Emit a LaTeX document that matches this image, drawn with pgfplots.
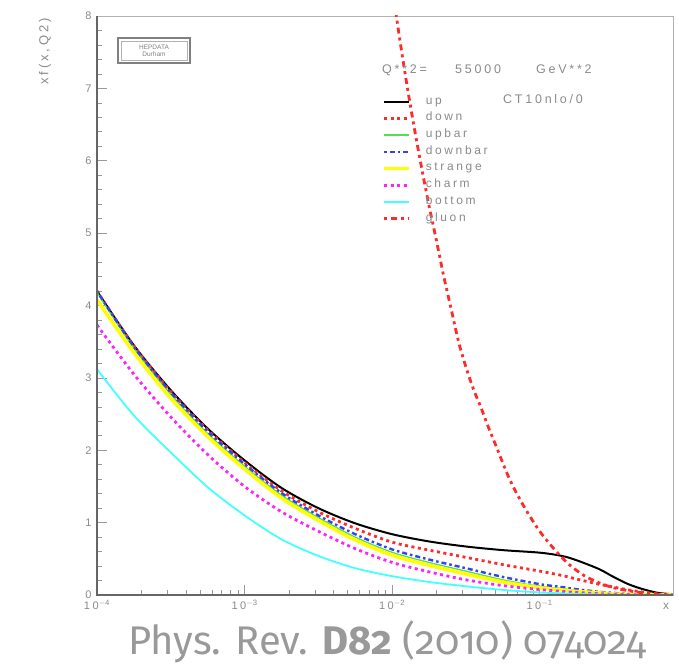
\documentclass[border=0pt]{standalone}
\usepackage{pgfplots}
\pgfplotsset{compat=1.18}
\usepackage{pgfplotstable}
\usepackage{fontspec}
\setmainfont{Liberation Sans}
\newfontfamily\rootfont{Liberation Sans}[LetterSpace=22]
\newfontfamily\footfont{Fira Sans}[Numbers=OldStyle]
\definecolor{txtgray}{HTML}{8A8A8A}
\definecolor{rred}{HTML}{FF2A2A}
\definecolor{rgreen}{HTML}{55DD55}
\definecolor{rblue}{HTML}{3344EE}
\definecolor{ryellow}{HTML}{FFFF00}
\definecolor{rmag}{HTML}{FF22FF}
\definecolor{rcyan}{HTML}{44FFFF}

\pgfplotstableread{
x        up    down  upbar downbar strange charm bottom
1e-4     4.20  4.20  4.18  4.20   4.08   3.73  3.12
1.778e-4 3.45  3.44  3.41  3.43   3.35   3.05  2.48
3.162e-4 2.83  2.81  2.77  2.80   2.72   2.46  1.97
5.623e-4 2.30  2.28  2.23  2.26   2.19   1.94  1.49
1e-3     1.86  1.83  1.78  1.81   1.74   1.50  1.10
1.778e-3 1.48  1.44  1.38  1.41   1.34   1.15  0.77
3.162e-3 1.20  1.15  1.07  1.10   1.03   0.88  0.54
5.623e-3 0.99  0.92  0.80  0.84   0.76   0.64  0.37
1e-2     0.84  0.73  0.59  0.63   0.55   0.45  0.26
1.778e-2 0.74  0.62  0.45  0.49   0.41   0.32  0.18
3.162e-2 0.67  0.52  0.33  0.37   0.29   0.21  0.12
5.623e-2 0.62  0.42  0.21  0.25   0.18   0.13  0.07
0.1      0.585 0.33  0.12  0.15   0.10   0.075 0.035
0.1413   0.54  0.27  0.09  0.11   0.07   0.05  0.022
0.1778   0.48  0.22  0.06  0.08   0.05   0.035 0.015
0.2512   0.36  0.15  0.035 0.045  0.03   0.018 0.008
0.3162   0.25  0.11  0.02  0.03   0.015  0.01  0.005
0.3981   0.15  0.07  0.01  0.015  0.008  0.005 0.002
0.5012   0.08  0.04  0.005 0.008  0.004  0.002 0.001
0.6310   0.03  0.015 0.002 0.003  0.001  0.001 0
0.7943   0.01  0.005 0     0      0      0     0
}\quarks

\pgfplotstableread{
x        g
0.01     8.4
0.01122  7.7
0.01259  7.05
0.01413  6.45
0.01585  5.9
0.01778  5.38
0.01995  4.9
0.02239  4.4
0.02512  3.95
0.02818  3.5
0.03162  3.15
0.03548  2.85
0.03981  2.6
0.04467  2.33
0.05012  2.08
0.0631   1.58
0.07943  1.2
0.1      0.88
0.1259   0.63
0.1585   0.42
0.1995   0.27
0.2512   0.17
0.3162   0.10
0.3981   0.06
0.5012   0.03
0.631    0.012
0.7943   0.004
}\gluon

\begin{document}
\begin{tikzpicture}[x=1pt,y=1pt]
\begin{axis}[
  at={(97pt,71pt)}, anchor=south west,
  scale only axis, width=576pt, height=579pt,
  xmode=log, xmin=1e-4, xmax=0.8, ymin=0, ymax=8,
  axis line style={gray!60, line width=0.8pt},
  xtick pos=bottom, ytick pos=left, tick align=inside,
  major tick length=10pt, minor tick length=5pt,
  every tick/.style={gray!80, line width=0.6pt},
  xtick={1e-4,1e-3,1e-2,1e-1},
  xticklabels={10\textsuperscript{$-$4},10\textsuperscript{$-$3},10\textsuperscript{$-$2},10\textsuperscript{$-$1}},
  ytick={0,1,...,8}, minor y tick num=4,
  /pgf/number format/assume math mode=true,
  tick label style={font=\rootfont\fontsize{11}{11}\selectfont, text=txtgray},
  xticklabel style={yshift=-2pt},
  yticklabel style={xshift=-2pt},
  legend cell align=left,
  legend style={at={(rel axis cs:0.495,0.862)}, anchor=north west,
    draw=none, fill=none, inner sep=0pt, row sep=5.7pt,
    font=\rootfont\fontsize{12}{12}\selectfont, text=txtgray,
    nodes={inner sep=0pt, text height=8pt, text depth=3pt},
    /tikz/every odd column/.append style={column sep=15pt}},
  legend image code/.code={\draw[#1] (0pt,0pt) -- (25pt,0pt);},
]
\addplot[black, line width=2pt, smooth] table[x=x,y=up] {\quarks};
\addlegendentry{up}
\addplot[rred, line width=2.8pt, dash pattern=on 3pt off 3.5pt, smooth] table[x=x,y=down] {\quarks};
\addlegendentry{down}
\addplot[rgreen, line width=1.3pt, smooth] table[x=x,y=upbar] {\quarks};
\addlegendentry{upbar}
\addplot[rblue, line width=2.4pt, dash pattern=on 2.5pt off 3pt on 5pt off 3pt, smooth] table[x=x,y=downbar] {\quarks};
\addlegendentry{downbar}
\addplot[ryellow, line width=3.5pt, smooth] table[x=x,y=strange] {\quarks};
\addlegendentry{strange}
\addplot[rmag, line width=2.8pt, dash pattern=on 3pt off 3.5pt, smooth] table[x=x,y=charm] {\quarks};
\addlegendentry{charm}
\addplot[rcyan, line width=1.8pt, smooth] table[x=x,y=bottom] {\quarks};
\addlegendentry{bottom}
\addplot[rred, line width=2.8pt, dash pattern=on 3pt off 4pt on 6pt off 4pt, smooth] table[x=x,y=g] {\gluon};
\addlegendentry{gluon}
\end{axis}
% darker left and bottom axis lines
\draw[gray!80!black, line width=1.3pt] (97,650) -- (97,71) -- (673,71);
% Q2 and PDF set texts
\begin{scope}[every node/.style={font=\rootfont\fontsize{12.5}{12.5}\selectfont, text=txtgray, anchor=base west, inner sep=0pt}]
\node at (382,592) {Q**2=};
\node at (455,592) {55000};
\node at (536,592) {GeV**2};
\node at (503,562) {CT10nlo/0};
\end{scope}
% HEPDATA box
\draw[gray, line width=2pt] (118,603) rectangle (190,628);
\draw[gray!60, line width=0.6pt] (121,606) rectangle (187,625);
\node[font=\fontsize{6.5}{7}\selectfont, text=gray, align=center] at (154,615.5) {HEPDATA\\Durham};
% axis titles
\node[font=\rootfont\fontsize{13}{13}\selectfont, text=txtgray, rotate=90, anchor=east] at (45,651) {xf(x,Q2)};
\node[font=\rootfont\fontsize{12}{12}\selectfont, text=txtgray] at (666,60) {x};
% footer
\node[font=\footfont\fontsize{40}{40}\selectfont, text=gray!80, anchor=base west, inner sep=0pt] at (128,12) {Phys. Rev. \textbf{D82} (2010) 074024};
\pgfresetboundingbox
\path (0,0) rectangle (679,666);
\end{tikzpicture}
\end{document}
